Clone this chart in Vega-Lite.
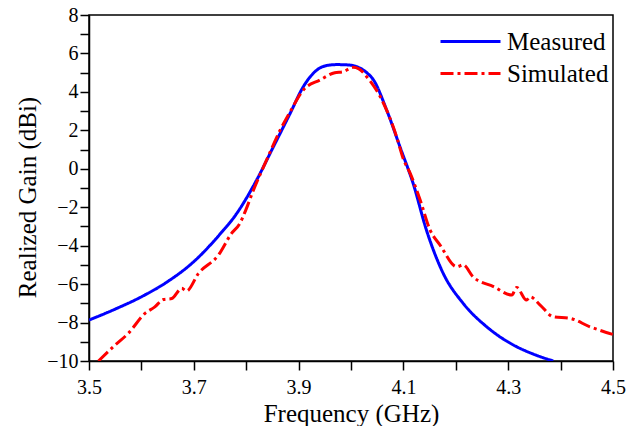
{
  "$schema": "https://vega.github.io/schema/vega-lite/v6.json",
  "width": 524,
  "height": 346,
  "autosize": "none",
  "padding": {"left": 89, "top": 15, "right": 26, "bottom": 65},
  "background": "white",
  "config": {
    "font": "Liberation Serif",
    "view": {"stroke": "black", "strokeWidth": 1.5},
    "axis": {"grid": false, "domainColor": "black", "domainWidth": 1.5, "tickColor": "black", "tickWidth": 1.5, "labelColor": "black", "titleColor": "black", "labelFont": "Liberation Serif", "titleFont": "Liberation Serif", "titleFontWeight": "normal"},
    "legend": {"labelFont": "Liberation Serif", "labelColor": "black"}
  },
  "data": {"values": [
    {"f": 3.5, "g": -7.87, "s": "Measured"},
    {"f": 3.55, "g": -7.3, "s": "Measured"},
    {"f": 3.6, "g": -6.66, "s": "Measured"},
    {"f": 3.65, "g": -5.87, "s": "Measured"},
    {"f": 3.7, "g": -4.83, "s": "Measured"},
    {"f": 3.75, "g": -3.4, "s": "Measured"},
    {"f": 3.78, "g": -2.4, "s": "Measured"},
    {"f": 3.8, "g": -1.55, "s": "Measured"},
    {"f": 3.82, "g": -0.58, "s": "Measured"},
    {"f": 3.852, "g": 1.15, "s": "Measured"},
    {"f": 3.884, "g": 2.89, "s": "Measured"},
    {"f": 3.909, "g": 4.27, "s": "Measured"},
    {"f": 3.935, "g": 5.14, "s": "Measured"},
    {"f": 3.955, "g": 5.38, "s": "Measured"},
    {"f": 3.973, "g": 5.42, "s": "Measured"},
    {"f": 3.995, "g": 5.4, "s": "Measured"},
    {"f": 4.011, "g": 5.31, "s": "Measured"},
    {"f": 4.03, "g": 5.0, "s": "Measured"},
    {"f": 4.043, "g": 4.62, "s": "Measured"},
    {"f": 4.068, "g": 3.06, "s": "Measured"},
    {"f": 4.094, "g": 1.1, "s": "Measured"},
    {"f": 4.119, "g": -0.8, "s": "Measured"},
    {"f": 4.144, "g": -3.19, "s": "Measured"},
    {"f": 4.176, "g": -5.44, "s": "Measured"},
    {"f": 4.214, "g": -7.0, "s": "Measured"},
    {"f": 4.259, "g": -8.22, "s": "Measured"},
    {"f": 4.31, "g": -9.17, "s": "Measured"},
    {"f": 4.348, "g": -9.64, "s": "Measured"},
    {"f": 4.386, "g": -10, "s": "Measured"},
    {"f": 3.518, "g": -10, "s": "Simulated"},
    {"f": 3.55, "g": -9.17, "s": "Simulated"},
    {"f": 3.575, "g": -8.56, "s": "Simulated"},
    {"f": 3.607, "g": -7.52, "s": "Simulated"},
    {"f": 3.625, "g": -7.2, "s": "Simulated"},
    {"f": 3.642, "g": -6.8, "s": "Simulated"},
    {"f": 3.658, "g": -6.75, "s": "Simulated"},
    {"f": 3.677, "g": -6.22, "s": "Simulated"},
    {"f": 3.686, "g": -6.36, "s": "Simulated"},
    {"f": 3.709, "g": -5.44, "s": "Simulated"},
    {"f": 3.747, "g": -4.49, "s": "Simulated"},
    {"f": 3.772, "g": -3.36, "s": "Simulated"},
    {"f": 3.788, "g": -2.84, "s": "Simulated"},
    {"f": 3.798, "g": -2.23, "s": "Simulated"},
    {"f": 3.814, "g": -1.1, "s": "Simulated"},
    {"f": 3.839, "g": 0.46, "s": "Simulated"},
    {"f": 3.865, "g": 2.02, "s": "Simulated"},
    {"f": 3.884, "g": 2.97, "s": "Simulated"},
    {"f": 3.909, "g": 4.1, "s": "Simulated"},
    {"f": 3.941, "g": 4.62, "s": "Simulated"},
    {"f": 3.969, "g": 5.0, "s": "Simulated"},
    {"f": 3.985, "g": 5.05, "s": "Simulated"},
    {"f": 4.004, "g": 5.28, "s": "Simulated"},
    {"f": 4.015, "g": 5.2, "s": "Simulated"},
    {"f": 4.03, "g": 4.79, "s": "Simulated"},
    {"f": 4.062, "g": 3.41, "s": "Simulated"},
    {"f": 4.087, "g": 1.67, "s": "Simulated"},
    {"f": 4.1, "g": 0.5, "s": "Simulated"},
    {"f": 4.113, "g": -0.24, "s": "Simulated"},
    {"f": 4.132, "g": -1.63, "s": "Simulated"},
    {"f": 4.151, "g": -3.19, "s": "Simulated"},
    {"f": 4.17, "g": -3.97, "s": "Simulated"},
    {"f": 4.202, "g": -5.1, "s": "Simulated"},
    {"f": 4.214, "g": -5.0, "s": "Simulated"},
    {"f": 4.233, "g": -5.62, "s": "Simulated"},
    {"f": 4.272, "g": -6.13, "s": "Simulated"},
    {"f": 4.307, "g": -6.57, "s": "Simulated"},
    {"f": 4.316, "g": -6.17, "s": "Simulated"},
    {"f": 4.335, "g": -6.83, "s": "Simulated"},
    {"f": 4.342, "g": -6.66, "s": "Simulated"},
    {"f": 4.361, "g": -7.09, "s": "Simulated"},
    {"f": 4.386, "g": -7.7, "s": "Simulated"},
    {"f": 4.418, "g": -7.78, "s": "Simulated"},
    {"f": 4.456, "g": -8.22, "s": "Simulated"},
    {"f": 4.5, "g": -8.62, "s": "Simulated"}
  ]},
  "mark": {"type": "line", "strokeWidth": 3, "clip": true, "interpolate": "monotone", "strokeCap": "butt"},
  "encoding": {
    "x": {
      "field": "f", "type": "quantitative",
      "scale": {"domain": [3.5, 4.5], "nice": false, "zero": false},
      "axis": {
        "title": "Frequency (GHz)",
        "values": [3.5, 3.6, 3.7, 3.8, 3.9, 4.0, 4.1, 4.2, 4.3, 4.4, 4.5],
        "labelExpr": "round(datum.value*10) % 2 == 1 ? format(datum.value, '.1f') : ''",
        "labelFontSize": 20, "labelPadding": 7, "tickSize": 9,
        "titleFontSize": 25, "titleY": 60, "titleBaseline": "alphabetic",
        "labelFlush": false, "labelOverlap": false,
        "encode": {"ticks": {"update": {"y2": {"signal": "round(datum.value*10) % 2 == 1 ? 9 : 5"}}}}
      }
    },
    "y": {
      "field": "g", "type": "quantitative",
      "scale": {"domain": [-10, 8], "nice": false, "zero": false},
      "axis": {
        "title": "Realized Gain (dBi)",
        "values": [-10, -9, -8, -7, -6, -5, -4, -3, -2, -1, 0, 1, 2, 3, 4, 5, 6, 7, 8],
        "labelExpr": "round(datum.value) % 2 == 0 ? format(datum.value, 'd') : ''",
        "labelFontSize": 20, "labelPadding": 2, "tickSize": 9,
        "titleFontSize": 25, "titleX": -54, "titleY": 182, "titleBaseline": "alphabetic", "titleAngle": -90,
        "labelFlush": false, "labelOverlap": false,
        "encode": {"ticks": {"update": {"x2": {"signal": "round(datum.value) % 2 == 0 ? -9 : -5"}}}}
      }
    },
    "color": {
      "field": "s", "type": "nominal",
      "scale": {"domain": ["Measured", "Simulated"], "range": ["#0000ff", "#ff0000"]},
      "legend": {"title": null, "orient": "none", "legendX": 369, "legendY": 14, "padding": 0, "symbolType": "M-6,0H6", "symbolSize": 100, "symbolStrokeWidth": 3, "labelFontSize": 25, "labelOffset": 24, "rowPadding": 6, "labelLimit": 300}
    },
    "strokeDash": {
      "field": "s", "type": "nominal",
      "scale": {"domain": ["Measured", "Simulated"], "range": [[1, 0], [13, 4, 3, 4]]},
      "legend": {"title": null, "orient": "none", "legendX": 369, "legendY": 14, "padding": 0, "symbolType": "M-6,0H6", "symbolSize": 100, "symbolStrokeWidth": 3, "labelFontSize": 25, "labelOffset": 24, "rowPadding": 6, "labelLimit": 300}
    }
  }
}
